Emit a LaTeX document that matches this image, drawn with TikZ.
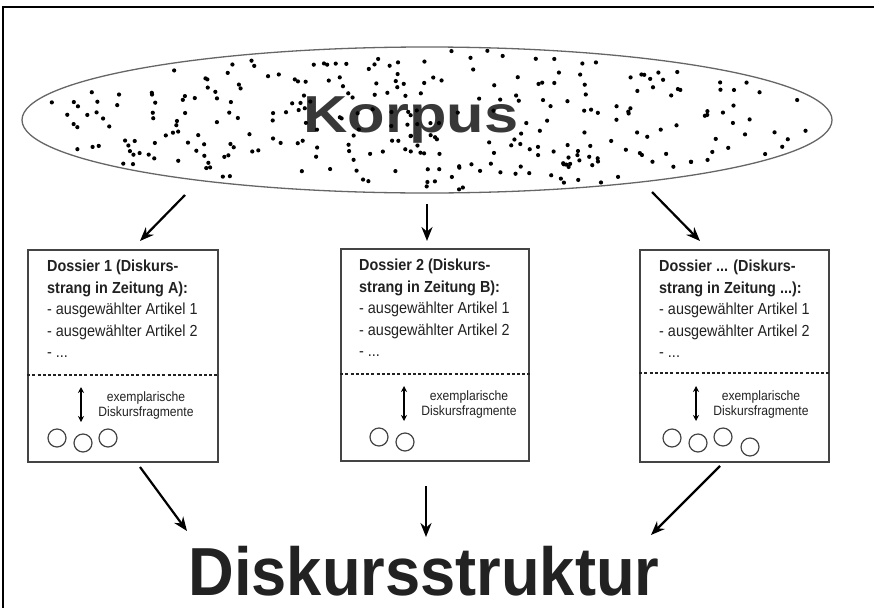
\documentclass[tikz,border=0pt]{standalone}
\usepackage{fontspec}
\setmainfont{Liberation Sans}
\newfontfamily\narrowfont[FakeStretch=0.9]{Liberation Sans}
\newfontfamily\titlefont[FakeStretch=0.93]{Liberation Sans}
\newfontfamily\widefont[FakeStretch=1.18]{Liberation Sans}
\usetikzlibrary{shapes.geometric,arrows.meta}
\definecolor{ink}{HTML}{222222}
\definecolor{boxline}{HTML}{444444}
\begin{document}
\begin{tikzpicture}[x=1pt,y=-1pt,
  flowarrow/.style={line width=2.2pt,draw=black,-{Stealth[length=14pt,width=11pt]}},
  dossierbox/.style={draw=boxline,line width=1.5pt,rectangle,minimum height=212pt,inner sep=0pt},
  boldline/.style={anchor=base west,inner sep=0pt,font=\narrowfont\bfseries\fontsize{16}{16}\selectfont,text=ink},
  plainline/.style={anchor=base west,inner sep=0pt,font=\narrowfont\fontsize{16}{16}\selectfont,text=ink},
  smallline/.style={anchor=base,inner sep=0pt,font=\narrowfont\fontsize{13.5}{13.5}\selectfont,text=ink},
  fragcircle/.style={circle,draw=boxline,line width=1.2pt,minimum size=18pt,inner sep=0pt},
  dashsep/.style={line width=1.5pt,draw=ink,dash pattern=on 3pt off 2.2pt},
  dblarrow/.style={line width=1.5pt,{Stealth[length=6pt,width=6pt]}-{Stealth[length=6pt,width=6pt]}}
]
\useasboundingbox (0,0) rectangle (874,608);
\fill[white] (0,0) rectangle (874,608);
% frame
\draw[line width=2.2pt,black] (874,7) -- (3,7) -- (3,608);

% corpus ellipse
\node[ellipse,draw=gray!80!black,fill=white,line width=1.3pt,minimum width=810pt,minimum height=146pt,inner sep=0pt] (korpus) at (427,120) {};
\node[anchor=base,inner sep=0pt,font=\widefont\bfseries\fontsize{52}{52}\selectfont,text=ink!90] (korpustext) at (411,132) {Korpus};
\pgfmathsetseed{2024}
\foreach \i in {1,...,300}{
  \pgfmathsetmacro\ang{360*rnd}
  \pgfmathsetmacro\rad{sqrt(rnd)*0.96}
  \fill[black] ({427+405*\rad*cos(\ang)},{120+73*\rad*sin(\ang)}) circle (2.1pt);
}

% boxes
\node[dossierbox,minimum width=190pt] (box1) at (123,356) {};
\node[dossierbox,minimum width=188pt] (box2) at (435,355) {};
\node[dossierbox,minimum width=189pt] (box3) at (734.5,356) {};

% box 1 text
\node[boldline] (b1l1) at (47,271) {Dossier 1 (Diskurs-};
\node[boldline] (b1l2) at (47,293) {strang in Zeitung A):};
\node[plainline] (b1l3) at (47,314) {- ausgewählter Artikel 1};
\node[plainline] (b1l4) at (47,336) {- ausgewählter Artikel 2};
\node[plainline] (b1l5) at (47,357) {- ...};
% box 2 text
\node[boldline] (b2l1) at (359,270) {Dossier 2 (Diskurs-};
\node[boldline] (b2l2) at (359,292) {strang in Zeitung B):};
\node[plainline] (b2l3) at (359,313) {- ausgewählter Artikel 1};
\node[plainline] (b2l4) at (359,335) {- ausgewählter Artikel 2};
\node[plainline] (b2l5) at (359,356) {- ...};
% box 3 text
\node[boldline] (b3l1) at (659,271) {Dossier ... (Diskurs-};
\node[boldline] (b3l2) at (659,293) {strang in Zeitung ...):};
\node[plainline] (b3l3) at (659,314) {- ausgewählter Artikel 1};
\node[plainline] (b3l4) at (659,336) {- ausgewählter Artikel 2};
\node[plainline] (b3l5) at (659,357) {- ...};

% dashed separators
\draw[dashsep] (box1.west |- 0,375) coordinate (d1a) -- (box1.east |- 0,375) coordinate (d1b);
\draw[dashsep] (box2.west |- 0,374) coordinate (d2a) -- (box2.east |- 0,374) coordinate (d2b);
\draw[dashsep] (box3.west |- 0,373) coordinate (d3a) -- (box3.east |- 0,373) coordinate (d3b);

% double arrows and captions
\coordinate (u1) at (81,387); \coordinate (v1) at (81,422);
\coordinate (u2) at (404,386); \coordinate (v2) at (404,421);
\coordinate (u3) at (696,386); \coordinate (v3) at (696,421);
\draw[dblarrow] (u1) -- (v1);
\draw[dblarrow] (u2) -- (v2);
\draw[dblarrow] (u3) -- (v3);
\node[smallline] (e1a) at (146,401) {exemplarische};
\node[smallline] (e1b) at (146,416) {Diskursfragmente};
\node[smallline] (e2a) at (469,400) {exemplarische};
\node[smallline] (e2b) at (469,415) {Diskursfragmente};
\node[smallline] (e3a) at (761,400) {exemplarische};
\node[smallline] (e3b) at (761,415) {Diskursfragmente};

% fragment circles
\node[fragcircle] (c11) at (57,438) {};
\node[fragcircle] (c12) at (83,443) {};
\node[fragcircle] (c13) at (108,438) {};
\node[fragcircle] (c21) at (379,437) {};
\node[fragcircle] (c22) at (405,442) {};
\node[fragcircle] (c31) at (672,438) {};
\node[fragcircle] (c32) at (698,443) {};
\node[fragcircle] (c33) at (723,437) {};
\node[fragcircle] (c34) at (750,447) {};

% arrows from corpus to boxes
\coordinate (k1) at (185,195); \coordinate (t1) at (140,241);
\coordinate (k2) at (427,204); \coordinate (t2) at (427,241);
\coordinate (k3) at (652,192); \coordinate (t3) at (700,241);
\draw[flowarrow] (k1) -- (t1);
\draw[flowarrow] (k2) -- (t2);
\draw[flowarrow] (k3) -- (t3);

% result
\node[anchor=base,inner sep=0pt,font=\titlefont\bfseries\fontsize{68}{68}\selectfont,text=ink] (struktur) at (424,595) {Diskursstruktur};

% arrows from boxes to result
\coordinate (s1) at (140,467); \coordinate (r1) at (187,531);
\coordinate (s2) at (426,486); \coordinate (r2) at (426,537);
\coordinate (s3) at (720,466); \coordinate (r3) at (651,535);
\draw[flowarrow] (s1) -- (r1);
\draw[flowarrow] (s2) -- (r2);
\draw[flowarrow] (s3) -- (r3);
\end{tikzpicture}
\end{document}
